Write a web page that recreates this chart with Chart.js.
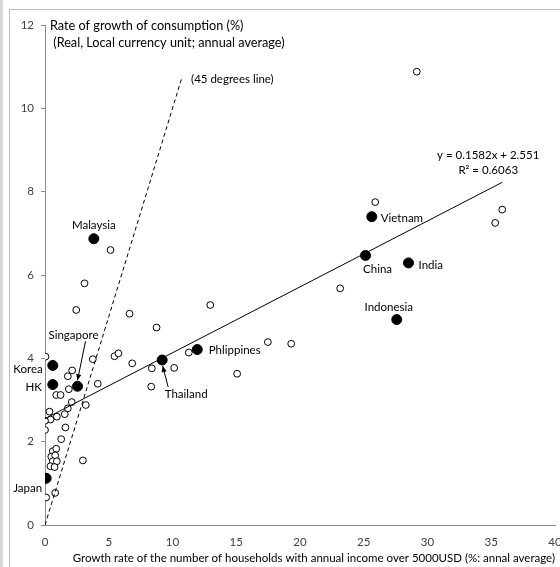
<!DOCTYPE html>
<html>
<head>
<meta charset="utf-8">
<script src="https://cdn.jsdelivr.net/npm/chart.js@4/dist/chart.umd.min.js"></script>
<style>
  html, body { margin: 0; padding: 0; background: #fff; overflow: hidden; width: 560px; height: 567px; }
  #wrap { position: relative; width: 560px; height: 567px; overflow: hidden; background: #fff; }
  #wrap canvas { position: absolute; left: 0; top: 0; }
  .band { position: absolute; left: 0; top: 0; width: 3px; height: 567px; background: #d6d6d6; }
  .frame { position: absolute; left: 9px; top: 9px; width: 620px; height: 620px;
           border-left: 1px solid #bdbdbd; border-top: 1px solid #bdbdbd; }
</style>
</head>
<body>
<div id="wrap">
  <div class="band"></div>
  <div class="frame"></div>
  <canvas id="chart" width="600" height="567"></canvas>
</div>
<script>
// Highlighted Asian economies
const countries = ['Malaysia', 'Singapore', 'Korea', 'HK', 'Japan', 'Thailand',
                   'Phlippines', 'China', 'Vietnam', 'India', 'Indonesia'];
const countryX = [3.83, 2.55, 0.61, 0.61, 0.09, 9.19, 11.94, 25.14, 25.63, 28.51, 27.59];
const countryY = [6.87, 3.33, 3.83, 3.37, 1.12, 3.96, 4.21, 6.47, 7.40, 6.29, 4.93];

// Remaining economies (unlabelled)
const otherX = [29.16, 25.90, 35.86, 35.31, 12.96, 23.15, 17.48, 19.31, 15.07, 6.63,
                8.75, 3.75, 5.45, 5.76, 6.84, 4.14, 8.38, 10.13, 8.33, 11.28,
                5.14, 3.10, 2.45, 0.04, 2.13, 1.79, 0.88, 1.22, 1.87, 2.10,
                3.20, 1.79, 1.55, 0.35, 0.93, 0.43, 0.00, 0.00, 1.60, 1.27,
                0.61, 0.88, 0.49, 0.80, 0.61, 0.93, 0.43, 0.75, 2.97, 0.09, 0.80];
const otherY = [10.88, 7.75, 7.57, 7.25, 5.28, 5.68, 4.39, 4.35, 3.63, 5.07,
                4.74, 3.98, 4.05, 4.12, 3.88, 3.39, 3.76, 3.77, 3.32, 4.14,
                6.60, 5.80, 5.16, 4.04, 3.71, 3.57, 3.12, 3.12, 3.26, 2.95,
                2.88, 2.80, 2.66, 2.72, 2.60, 2.53, 2.50, 2.28, 2.34, 2.06,
                1.77, 1.83, 1.64, 1.67, 1.53, 1.53, 1.41, 1.39, 1.55, 0.66, 0.77];

// Linear trend fitted over all economies
const trendSlope = 0.1582;
const trendIntercept = 2.551;
const trendR2 = 0.6063;

// Reference diagonal (x = y)
const diagonalX = [0, 10.75];
const diagonalY = [0, 10.75];

// Axis tick labels
const xTickValues = [0, 5, 10, 15, 20, 25, 30, 35, 40];
const yTickValues = [0, 2, 4, 6, 8, 10, 12];

const yTitleLines = ['Rate of growth of consumption (%)', ' (Real, Local currency unit; annual average)'];
const xTitle = 'Growth rate of the number of households with annual income over 5000USD (%: annal average)';
const diagonalLabel = '(45 degrees line)';

// Where each country name sits relative to its marker (pixels)
const labelPlacement = {
  Malaysia:   { dx: 0,    dy: -13, align: 'center' },
  Singapore:  { dx: -4,   dy: -51, align: 'center', arrow: [8, -45, 0, -6] },
  Korea:      { dx: -10,  dy: 4,   align: 'right' },
  HK:         { dx: -11,  dy: 3,   align: 'right' },
  Japan:      { dx: -4,   dy: 10,  align: 'right' },
  Thailand:   { dx: 24,   dy: 34,  align: 'center', arrow: [6, 27, 0.5, 6] },
  Phlippines: { dx: 11.5, dy: 1,   align: 'left' },
  China:      { dx: 12,   dy: 14,  align: 'center' },
  Vietnam:    { dx: 9,    dy: 2,   align: 'left' },
  India:      { dx: 10,   dy: 2,   align: 'left' },
  Indonesia:  { dx: -8,   dy: -12, align: 'center' }
};

const FONT = 'Lato, "Open Sans", sans-serif';
const AXIS_GREY = '#8c8c8c';

const allX = countryX.concat(otherX);
const trendX0 = Math.min(...allX);
const trendX1 = Math.max(...allX);
const trendPoints = [trendX0, trendX1].map(x => ({ x, y: trendSlope * x + trendIntercept }));

const countryPoints = countryX.map((x, i) => ({ x, y: countryY[i] }));
const otherPoints = otherX.map((x, i) => ({ x, y: otherY[i] }));
const diagonalPoints = diagonalX.map((x, i) => ({ x, y: diagonalY[i] }));

function arrow(ctx, x1, y1, x2, y2) {
  ctx.beginPath();
  ctx.moveTo(x1, y1);
  ctx.lineTo(x2, y2);
  ctx.stroke();
  const a = Math.atan2(y2 - y1, x2 - x1);
  const len = 6, half = 2.6;
  ctx.beginPath();
  ctx.moveTo(x2, y2);
  ctx.lineTo(x2 - len * Math.cos(a) + half * Math.sin(a), y2 - len * Math.sin(a) - half * Math.cos(a));
  ctx.lineTo(x2 - len * Math.cos(a) - half * Math.sin(a), y2 - len * Math.sin(a) + half * Math.cos(a));
  ctx.closePath();
  ctx.fill();
}

const annotations = {
  id: 'annotations',
  afterDatasetsDraw(chart) {
    const { ctx, chartArea, scales: { x, y } } = chart;
    ctx.save();
    ctx.fillStyle = '#000';
    ctx.strokeStyle = '#000';
    ctx.lineWidth = 1;
    ctx.textBaseline = 'middle';

    // vertical-axis caption, written horizontally at the top of the plot
    ctx.font = '12.7px ' + FONT;
    ctx.textAlign = 'left';
    ctx.fillText(yTitleLines[0], chartArea.left + 5, chartArea.top + 0.5);
    ctx.fillText(yTitleLines[1], chartArea.left + 5, chartArea.top + 17.5);

    ctx.font = '11.5px ' + FONT;
    // diagonal caption
    const dEnd = diagonalPoints[diagonalPoints.length - 1];
    ctx.fillText(diagonalLabel, x.getPixelForValue(dEnd.x) + 9, y.getPixelForValue(dEnd.y) + 2);

    // regression equation next to the end of the trend line
    const tEnd = trendPoints[1];
    const ex = x.getPixelForValue(tEnd.x) - 14;
    const ey = y.getPixelForValue(tEnd.y);
    ctx.textAlign = 'center';
    ctx.fillText('y = ' + trendSlope + 'x + ' + trendIntercept, ex, ey - 27);
    ctx.fillText('R\u00B2 = ' + trendR2, ex, ey - 12);

    // country names
    countries.forEach((name, i) => {
      const p = labelPlacement[name];
      const px = x.getPixelForValue(countryX[i]);
      const py = y.getPixelForValue(countryY[i]);
      ctx.textAlign = p.align;
      ctx.fillText(name, px + p.dx, py + p.dy);
      if (p.arrow) {
        const [sx, sy, tx, ty] = p.arrow;
        arrow(ctx, px + sx, py + sy, px + tx, py + ty);
      }
    });
    ctx.restore();
  }
};

new Chart(document.getElementById('chart'), {
  type: 'scatter',
  data: {
    datasets: [
      {
        type: 'line',
        label: 'Trend',
        data: trendPoints,
        borderColor: '#000',
        borderWidth: 1,
        pointRadius: 0,
        fill: false
      },
      {
        type: 'line',
        label: '45 degrees line',
        data: diagonalPoints,
        borderColor: '#000',
        borderWidth: 1,
        borderDash: [4, 3],
        pointRadius: 0,
        fill: false
      },
      {
        label: 'Highlighted',
        data: countryPoints,
        pointRadius: 5,
        pointBackgroundColor: '#000',
        pointBorderColor: '#000',
        pointBorderWidth: 1
      },
      {
        label: 'Others',
        data: otherPoints,
        pointRadius: 3.4,
        pointBackgroundColor: '#fff',
        pointBorderColor: '#000',
        pointBorderWidth: 1
      }
    ]
  },
  options: {
    responsive: false,
    animation: false,
    devicePixelRatio: 1,
    layout: { padding: { left: 0, top: 25, right: 45, bottom: 0 } },
    plugins: { legend: { display: false }, tooltip: { enabled: false } },
    scales: {
      x: {
        type: 'linear',
        min: 0, max: 40,
        afterBuildTicks: s => { s.ticks = xTickValues.map(v => ({ value: v })); },
        afterFit: s => { s.height = 42; },
        grid: { display: false, drawTicks: false },
        border: { display: true, color: AXIS_GREY, width: 1 },
        ticks: { color: '#404040', font: { family: FONT, size: 11.5 }, padding: 10, maxRotation: 0, autoSkip: false },
        title: {
          display: true, text: xTitle, align: 'end',
          color: '#000', font: { family: FONT, size: 11.5 },
          padding: { top: 0, bottom: 2 }
        }
      },
      y: {
        type: 'linear',
        min: 0, max: 12,
        afterBuildTicks: s => { s.ticks = yTickValues.map(v => ({ value: v })); },
        afterFit: s => { s.width = 45; },
        grid: { drawOnChartArea: false, drawTicks: true, tickLength: 4, color: AXIS_GREY },
        border: { display: true, color: AXIS_GREY, width: 1 },
        ticks: { color: '#404040', font: { family: FONT, size: 11.5 }, padding: 7 }
      }
    }
  },
  plugins: [annotations]
});
</script>
</body>
</html>
